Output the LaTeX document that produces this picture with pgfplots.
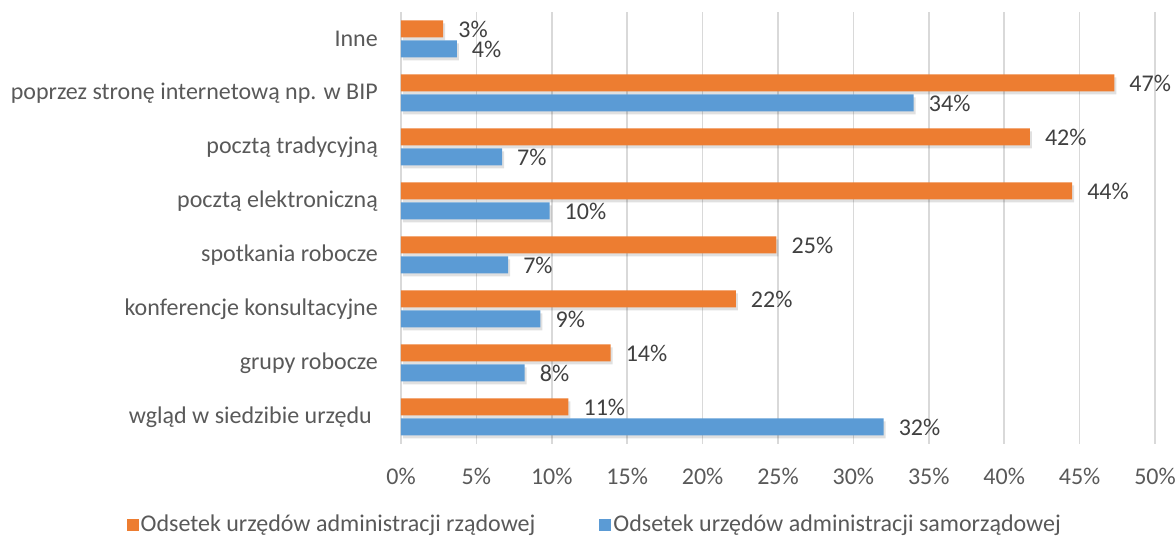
\documentclass[border=0pt]{standalone}
\usepackage{pgfplots}
\pgfplotsset{compat=1.18}
\usepackage{pgfplotstable}
\usepackage{fontspec}
\setmainfont{Carlito}
\definecolor{txt}{HTML}{595959}
\definecolor{lbl}{HTML}{404040}
\definecolor{gridc}{HTML}{D9D9D9}
\definecolor{orng}{HTML}{ED7D31}
\definecolor{blu}{HTML}{5B9BD5}

% y: 0 = wgląd ... 7 = Inne
\pgfplotstableread{
y x lab
0 11.1 11
1 13.9 14
2 22.2 22
3 24.9 25
4 44.5 44
5 41.7 42
6 47.3 47
7 2.8 3
}\rzad
\pgfplotstableread{
y x lab
0 32.0 32
1 8.2 8
2 9.25 9
3 7.1 7
4 9.85 10
5 6.7 7
6 34.0 34
7 3.7 4
}\samo

\begin{document}
\fontsize{24}{28}\selectfont
\begin{tikzpicture}
\useasboundingbox (-401pt,-96pt) rectangle (775pt,444pt);
\begin{axis}[at={(0,0)}, anchor=south west,
  scale only axis, width=754pt, height=432pt,
  xmin=0, xmax=50, ymin=-0.5, ymax=7.5,
  clip=false,
  axis line style={draw=none},
  xmajorgrids, grid style={gridc, line width=1.5pt},
  xtick={0,5,...,50},
  xticklabels={0\%,5\%,10\%,15\%,20\%,25\%,30\%,35\%,40\%,45\%,50\%},
  ytick={0,...,7},
  yticklabels={wgląd w siedzibie urzędu\hspace*{6pt},grupy robocze,konferencje konsultacyjne,spotkania robocze,pocztą elektroniczną,pocztą tradycyjną,poprzez stronę internetową np. w BIP,Inne},
  major tick length=0pt,
  tick label style={font=\fontsize{24}{28}\selectfont, text=txt},
  yticklabel style={anchor=east, inner sep=0pt, xshift=-23pt},
  xticklabel style={anchor=north, inner sep=0pt, yshift=-24pt},
  legend columns=2,
  legend style={draw=none, fill=none, font=\fontsize{24}{28}\selectfont, text=txt,
    at={(0.257,-0.1875)}, anchor=center,
    /tikz/every even column/.append style={column sep=62pt}},
  legend cell align=left,
]
% soft shadows
\addplot[xbar, bar width=17pt, bar shift=10pt, fill=black, fill opacity=0.12, draw=none,
  xshift=2pt, yshift=-3pt, forget plot]
  table[x=x, y=y] {\rzad};
\addplot[xbar, bar width=17pt, bar shift=-10pt, fill=black, fill opacity=0.12, draw=none,
  xshift=2pt, yshift=-3pt, forget plot]
  table[x=x, y=y] {\samo};
\addplot[xbar, bar width=17pt, bar shift=10pt, fill=orng, draw=none,
  point meta=explicit symbolic, nodes near coords={\pgfplotspointmeta\%},
  nodes near coords style={anchor=west, inner sep=0pt, xshift=15pt, yshift=10pt,
    font=\fontsize{24}{28}\selectfont, text=lbl},
  legend image code/.code={\fill[orng] (0pt,-6pt) rectangle (12pt,6pt);}]
  table[x=x, y=y, meta=lab] {\rzad};
\addlegendentry{Odsetek urzędów administracji rządowej}
\addplot[xbar, bar width=17pt, bar shift=-10pt, fill=blu, draw=none,
  point meta=explicit symbolic, nodes near coords={\pgfplotspointmeta\%},
  nodes near coords style={anchor=west, inner sep=0pt, xshift=15pt, yshift=-10pt,
    font=\fontsize{24}{28}\selectfont, text=lbl},
  legend image code/.code={\fill[blu] (0pt,-6pt) rectangle (12pt,6pt);}]
  table[x=x, y=y, meta=lab] {\samo};
\addlegendentry{Odsetek urzędów administracji samorządowej}
\end{axis}
\end{tikzpicture}
\end{document}
